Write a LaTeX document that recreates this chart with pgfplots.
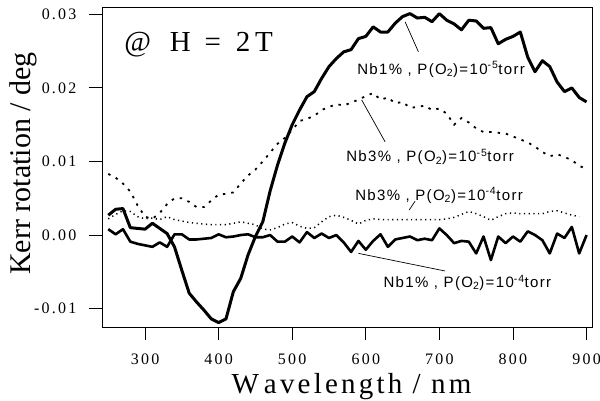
\documentclass[border=0pt]{standalone}
\usepackage{fontspec}
\setmainfont{Liberation Serif}
\newfontfamily\tickfam{Liberation Serif}[LetterSpace=14]
\newfontfamily\labfam{Liberation Serif}[LetterSpace=11]
\newfontfamily\titfam{Liberation Serif}[LetterSpace=16]
\newfontfamily\annfam{Liberation Sans}[LetterSpace=9]
\usepackage{pgfplots}
\pgfplotsset{compat=1.18}
\usepackage{pgfplotstable}

\pgfplotstableread{
lam val
250 0.0027
260 0.0035
270 0.0036
280 0.0010
290 0.0009
300 0.0008
310 0.0016
320 0.0009
330 0.0002
340 -0.0016
350 -0.0048
360 -0.0079
370 -0.0091
380 -0.0102
390 -0.0114
400 -0.0119
410 -0.0114
420 -0.0077
430 -0.0059
440 -0.0027
450 -0.0002
460 0.0018
470 0.0060
480 0.0095
490 0.0125
500 0.0150
510 0.0170
520 0.0188
530 0.0195
540 0.0213
550 0.0229
560 0.0240
570 0.0249
580 0.0252
590 0.0267
600 0.0270
610 0.0283
620 0.0276
630 0.0276
640 0.0288
650 0.0297
660 0.0301
670 0.0295
680 0.0296
690 0.0290
700 0.0301
710 0.0292
720 0.0287
730 0.0279
740 0.0292
750 0.0291
760 0.0281
770 0.0282
780 0.0260
790 0.0266
800 0.0270
810 0.0276
820 0.0242
830 0.0222
840 0.0237
850 0.0229
860 0.0208
870 0.0195
880 0.0200
890 0.0187
900 0.0181
}\nbonefive

\pgfplotstableread{
lam val
250 0.0008
260 0.0001
270 0.0008
280 -0.0009
290 -0.0012
300 -0.0014
310 -0.0016
320 -0.0010
330 -0.0016
340 0.0001
350 0.0001
360 -0.0006
370 -0.0006
380 -0.0005
390 -0.0004
400 0.0001
410 -0.0003
420 -0.0002
430 0.0000
440 0.0001
450 -0.0003
460 -0.0003
470 0.0000
480 -0.0009
490 -0.0009
500 -0.0002
510 -0.0010
520 0.0004
530 -0.0004
540 0.0002
550 -0.0004
560 0.0000
570 -0.0010
580 -0.0023
590 -0.0008
600 -0.0020
610 -0.0008
620 0.0001
630 -0.0016
640 -0.0006
650 -0.0004
660 -0.0002
670 -0.0007
680 -0.0005
690 -0.0007
700 0.0009
710 0.0000
720 -0.0011
730 -0.0008
740 -0.0009
750 -0.0025
760 -0.0002
770 -0.0034
780 -0.0002
790 -0.0011
800 -0.0002
810 -0.0009
820 0.0005
830 0.0000
840 -0.0007
850 -0.0025
860 0.0002
870 -0.0004
880 0.0011
890 -0.0025
900 0.0000
}\nbonefour

\pgfplotstableread{
lam val
250 0.0083
260 0.0078
270 0.0070
280 0.0059
290 0.0040
300 0.0025
310 0.0022
320 0.0030
330 0.0042
340 0.0050
350 0.0050
360 0.0045
370 0.0038
380 0.0038
390 0.0047
400 0.0055
410 0.0056
420 0.0058
430 0.0070
440 0.0081
450 0.0089
460 0.0100
470 0.0112
480 0.0124
490 0.0132
500 0.0143
510 0.0155
520 0.0158
530 0.0162
540 0.0170
550 0.0174
560 0.0178
570 0.0176
580 0.0180
590 0.0184
600 0.0189
610 0.0193
620 0.0184
630 0.0187
640 0.0179
650 0.0181
660 0.0173
670 0.0174
680 0.0176
690 0.0170
700 0.0172
710 0.0165
720 0.0150
730 0.0159
740 0.0153
750 0.0145
760 0.0140
770 0.0140
780 0.0139
790 0.0138
800 0.0134
810 0.0130
820 0.0126
830 0.0120
840 0.0113
850 0.0107
860 0.0110
870 0.0106
880 0.0102
890 0.0094
900 0.0090
}\nbthreefive

\pgfplotstableread{
lam val
250 0.0022
260 0.0028
270 0.0033
280 0.0032
290 0.0025
300 0.0022
310 0.0023
320 0.0021
330 0.0025
340 0.0021
350 0.0019
360 0.0017
370 0.0016
380 0.0015
390 0.0014
400 0.0014
410 0.0014
420 0.0016
430 0.0018
440 0.0016
450 0.0014
460 0.0008
470 0.0007
480 0.0010
490 0.0015
500 0.0017
510 0.0012
520 0.0009
530 0.0010
540 0.0018
550 0.0025
560 0.0027
570 0.0024
580 0.0020
590 0.0015
600 0.0020
610 0.0022
620 0.0021
630 0.0021
640 0.0021
650 0.0021
660 0.0021
670 0.0021
680 0.0021
690 0.0021
700 0.0021
710 0.0022
720 0.0024
730 0.0028
740 0.0032
750 0.0029
760 0.0025
770 0.0020
780 0.0025
790 0.0029
800 0.0030
810 0.0029
820 0.0029
830 0.0029
840 0.0029
850 0.0032
860 0.0033
870 0.0030
880 0.0027
890 0.0025
}\nbthreefour

\begin{document}
\begin{tikzpicture}
\useasboundingbox (0,0) rectangle (600bp,401bp);
\begin{axis}[
  at={(102bp,74bp)}, anchor=south west,
  scale only axis, width=490.8bp, height=320bp,
  xmin=241.5, xmax=908.5, ymin=-0.0125, ymax=0.031,
  tick align=outside, tick pos=left,
  major tick length=13bp,
  xtick={300,400,500,600,700,800,900},
  xticklabels={300,400,500,600,700,800,900},
  ytick={-0.01,0,0.01,0.02,0.03},
  yticklabels={-0.01,0.00,0.01,0.02,0.03},
  scaled y ticks=false,
  tick label style={font=\tickfam\fontsize{16bp}{19bp}\selectfont},
  xticklabel style={yshift=-10bp},
  yticklabel style={xshift=-9bp},
  axis line style={line width=0.8bp},
  tick style={line width=0.9bp, black},
  every axis x label/.style={at={(axis description cs:0.5084,-0.2072)}, anchor=base},
  every axis y label/.style={at={(axis description cs:-0.1467,0.5109)}, rotate=90, anchor=base},
  xlabel={\labfam\fontsize{29bp}{34bp}\selectfont W\kern5bp avelength / nm},
  ylabel={\fontsize{30bp}{36bp}\selectfont Kerr rotation / deg},
  clip=false,
]
\addplot[black, line width=1.5bp, dash pattern=on 1.2bp off 3.5bp] table[x=lam,y=val] {\nbthreefour};
\addplot[black, line width=1.8bp, dash pattern=on 2.4bp off 6bp] table[x=lam,y=val] {\nbthreefive};
\addplot[black, line width=2.6bp, line join=round] table[x=lam,y=val] {\nbonefour};
\addplot[black, line width=3bp, line join=round] table[x=lam,y=val] {\nbonefive};

\node[anchor=base west, inner sep=0, font=\titfam\fontsize{29bp}{34bp}\selectfont] at (axis cs:271.5,0.02491) {@\hspace{7bp} H\hspace{2bp} =\hspace{3bp} 2T};

\node[anchor=base west, inner sep=0, font=\annfam\fontsize{15bp}{18bp}\selectfont] at (axis cs:588.2,0.02188) {Nb1\% , P(O\textsubscript{2})=10\textsuperscript{-5}torr};
\node[anchor=base west, inner sep=0, font=\annfam\fontsize{15bp}{18bp}\selectfont] at (axis cs:573.2,0.00996) {Nb3\% , P(O\textsubscript{2})=10\textsuperscript{-5}torr};
\node[anchor=base west, inner sep=0, font=\annfam\fontsize{15bp}{18bp}\selectfont] at (axis cs:585.4,0.00476) {Nb3\% , P(O\textsubscript{2})=10\textsuperscript{-4}torr};
\node[anchor=base west, inner sep=0, font=\annfam\fontsize{15bp}{18bp}\selectfont] at (axis cs:623.9,-0.00711) {Nb1\% , P(O\textsubscript{2})=10\textsuperscript{-4}torr};

\draw[black, line width=0.7bp] (axis cs:653.4,0.02899) -- (axis cs:671.5,0.02491);
\draw[black, line width=0.7bp] (axis cs:594.5,0.01835) -- (axis cs:626.2,0.01268);
\draw[black, line width=0.7bp] (axis cs:659,0.00340) -- (axis cs:667,0.00460);
\draw[black, line width=0.7bp] (axis cs:590,-0.00249) -- (axis cs:707.8,-0.00489);
\end{axis}
\end{tikzpicture}
\end{document}
